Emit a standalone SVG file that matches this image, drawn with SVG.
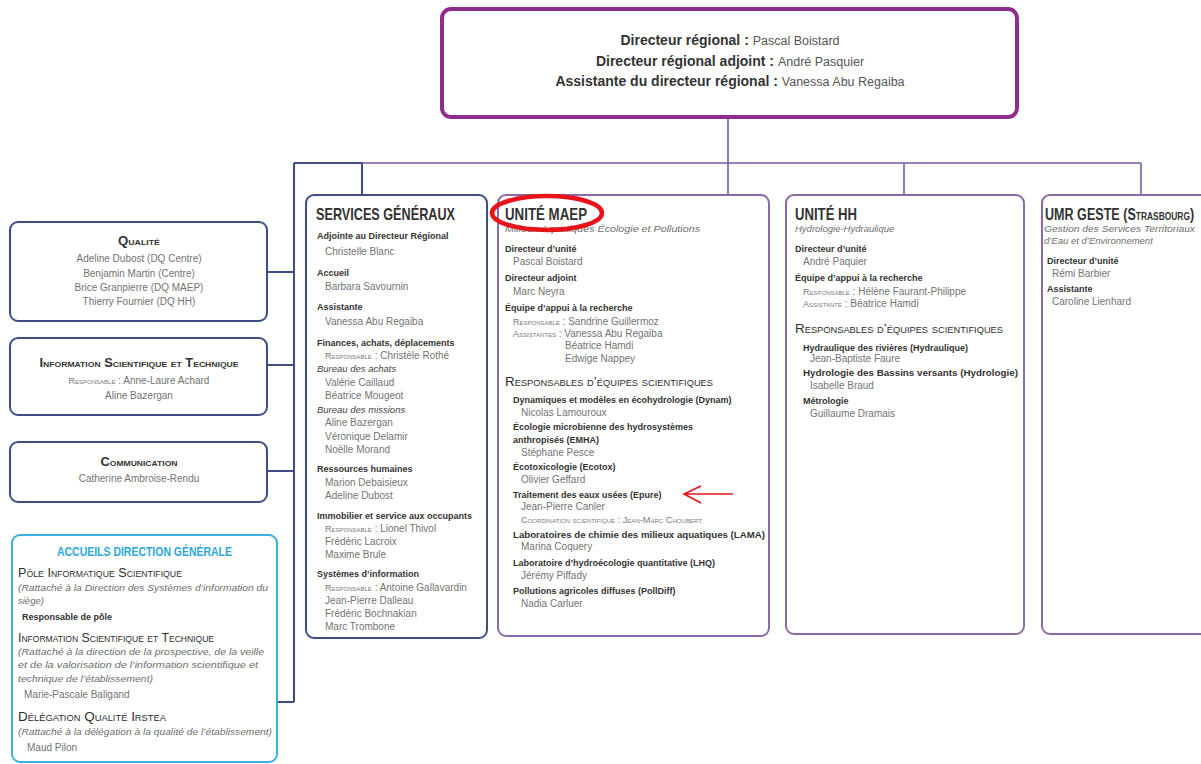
<svg xmlns="http://www.w3.org/2000/svg" width="1201" height="764" viewBox="0 0 1201 764">
<style>
text{font-family:"Liberation Sans",Arial,sans-serif}
.b{font-weight:bold;font-size:9px;fill:#333}
.n{font-size:10px;fill:#737373}
.it{font-style:italic;font-size:9.5px;fill:#6e6e6e}
.sc{font-variant:small-caps;font-size:9px;fill:#7a7a7a}
.t{font-size:17px;font-weight:bold;fill:#333}
.sec{font-variant:small-caps;font-size:13px;fill:#2e2e2e}
.lh{font-variant:small-caps;font-size:12px;font-weight:bold;fill:#333}
.ib{font-style:italic;font-size:9.5px;fill:#444}
.bx{fill:#fff;stroke:#3e4c87;stroke-width:2}
.px{fill:#fff;stroke:#8a6aa8;stroke-width:2}
.cb{stroke:#3e4c87;stroke-width:2;fill:none}
.cp{stroke:#7a5a9e;stroke-width:1.6;fill:none}
</style>
<rect width="1201" height="764" fill="#fff"/>
<g id="connectors">
<path class="cb" d="M294 163V702M294 163H362V195M294 272H267M294 365H267M294 471H267M294 702H277"/>
<path class="cp" d="M728 117V195M362 163H1141M904 163V195M1141 163V195"/>
</g>
<g id="direction">
<rect x="442" y="9" width="575" height="108" rx="9" fill="#fff" stroke="#8e2d8c" stroke-width="4"/>
<text x="730" y="45" text-anchor="middle" style="font-size:14px;font-weight:bold;fill:#333">Directeur régional : <tspan style="font-weight:normal;font-size:12.5px;fill:#555">Pascal Boistard</tspan></text>
<text x="730" y="66" text-anchor="middle" style="font-size:14px;font-weight:bold;fill:#333">Directeur régional adjoint : <tspan style="font-weight:normal;font-size:12.5px;fill:#555">André Pasquier</tspan></text>
<text x="730" y="86" text-anchor="middle" style="font-size:14px;font-weight:bold;fill:#333">Assistante du directeur régional : <tspan style="font-weight:normal;font-size:12.5px;fill:#555">Vanessa Abu Regaiba</tspan></text>
</g>
<g id="qualite">
<rect class="bx" x="10" y="222" width="257" height="99" rx="8"/>
<text class="lh" x="139" y="245" text-anchor="middle" textLength="42" lengthAdjust="spacingAndGlyphs">Qualité</text>
<text class="n" x="139" y="262" text-anchor="middle">Adeline Dubost (DQ Centre)</text>
<text class="n" x="139" y="276.5" text-anchor="middle">Benjamin Martin (Centre)</text>
<text class="n" x="139" y="290.5" text-anchor="middle">Brice Granpierre (DQ MAEP)</text>
<text class="n" x="139" y="304.5" text-anchor="middle">Thierry Fournier (DQ HH)</text>
</g>
<g id="ist">
<rect class="bx" x="10" y="338" width="257" height="77" rx="8"/>
<text class="lh" x="139" y="367" text-anchor="middle" textLength="199" lengthAdjust="spacingAndGlyphs">Information Scientifique et Technique</text>
<text class="n" x="139" y="384" text-anchor="middle"><tspan class="sc">Responsable</tspan> : Anne-Laure Achard</text>
<text class="n" x="139" y="398.5" text-anchor="middle">Aline Bazergan</text>
</g>
<g id="communication">
<rect class="bx" x="10" y="442" width="257" height="60" rx="8"/>
<text class="lh" x="139" y="465.5" text-anchor="middle" textLength="77" lengthAdjust="spacingAndGlyphs">Communication</text>
<text class="n" x="139" y="482" text-anchor="middle">Catherine Ambroise-Rendu</text>
</g>
<g id="accueils">
<rect x="12" y="535" width="265" height="227" rx="8" fill="#fff" stroke="#3ab0e0" stroke-width="2"/>
<text x="144.5" y="555.5" text-anchor="middle" textLength="175" lengthAdjust="spacingAndGlyphs" style="font-size:12px;font-weight:bold;fill:#2ba8dc">ACCUEILS DIRECTION GÉNÉRALE</text>
<text class="sec" x="18" y="577" textLength="164" lengthAdjust="spacingAndGlyphs">Pôle Informatique Scientifique</text>
<text class="it" x="18" y="590.5" textLength="250" lengthAdjust="spacingAndGlyphs">(Rattaché à la Direction des Systèmes d’information du</text>
<text class="it" x="18" y="603.5">siège)</text>
<text class="b" x="22" y="619.5">Responsable de pôle</text>
<text class="sec" x="18" y="641.5" textLength="196" lengthAdjust="spacingAndGlyphs">Information Scientifique et Technique</text>
<text class="it" x="18" y="654.5" textLength="246" lengthAdjust="spacingAndGlyphs">(Rattaché à la direction de la prospective, de la veille</text>
<text class="it" x="18" y="668" textLength="240" lengthAdjust="spacingAndGlyphs">et de la valorisation de l’information scientifique et</text>
<text class="it" x="18" y="681.5" textLength="135" lengthAdjust="spacingAndGlyphs">technique de l’établissement)</text>
<text class="n" x="24" y="697.5">Marie-Pascale Baligand</text>
<text class="sec" x="18" y="720.5" textLength="148" lengthAdjust="spacingAndGlyphs">Délégation Qualité Irstea</text>
<text class="it" x="18" y="734.5" textLength="254" lengthAdjust="spacingAndGlyphs">(Rattaché à la délégation à la qualité de l’établissement)</text>
<text class="n" x="27" y="751">Maud Pilon</text>
</g>
<g id="services-generaux">
<rect class="bx" x="306" y="195" width="181" height="443" rx="8"/>
<text class="t" x="316" y="220" textLength="139" lengthAdjust="spacingAndGlyphs">SERVICES GÉNÉRAUX</text>
<text class="b" x="317" y="238.5">Adjointe au Directeur Régional</text>
<text class="n" x="325" y="255">Christelle Blanc</text>
<text class="b" x="317" y="276">Accueil</text>
<text class="n" x="325" y="290">Barbara Savournin</text>
<text class="b" x="317" y="310">Assistante</text>
<text class="n" x="325" y="324.5">Vanessa Abu Regaiba</text>
<text class="b" x="317" y="346">Finances, achats, déplacements</text>
<text class="n" x="325" y="358.5"><tspan class="sc">Responsable</tspan> : Christèle Rothé</text>
<text class="ib" x="317" y="372">Bureau des achats</text>
<text class="n" x="325" y="386">Valérie Caillaud</text>
<text class="n" x="325" y="399">Béatrice Mougeot</text>
<text class="ib" x="317" y="413">Bureau des missions</text>
<text class="n" x="325" y="426">Aline Bazergan</text>
<text class="n" x="325" y="439.5">Véronique Delamir</text>
<text class="n" x="325" y="452.5">Noëlle Morand</text>
<text class="b" x="317" y="472">Ressources humaines</text>
<text class="n" x="325" y="485.5">Marion Debaisieux</text>
<text class="n" x="325" y="498.5">Adeline Dubost</text>
<text class="b" x="317" y="518.5">Immobilier et service aux occupants</text>
<text class="n" x="325" y="531.5"><tspan class="sc">Responsable</tspan> : Lionel Thivol</text>
<text class="n" x="325" y="545">Frédéric Lacroix</text>
<text class="n" x="325" y="557.5">Maxime Brule</text>
<text class="b" x="317" y="577">Systèmes d’information</text>
<text class="n" x="325" y="590.5"><tspan class="sc">Responsable</tspan> : Antoine Gallavardin</text>
<text class="n" x="325" y="604">Jean-Pierre Dalleau</text>
<text class="n" x="325" y="617">Frédéric Bochnakian</text>
<text class="n" x="325" y="630">Marc Trombone</text>
</g>
<g id="unite-maep">
<rect class="px" x="498" y="195" width="271" height="441" rx="8"/>
<text class="t" x="505" y="220" textLength="82" lengthAdjust="spacingAndGlyphs">UNITÉ MAEP</text>
<text class="it" x="505" y="231.5" textLength="195" lengthAdjust="spacingAndGlyphs">Milieux Aquatiques Écologie et Pollutions</text>
<text class="b" x="505" y="251.5">Directeur d’unité</text>
<text class="n" x="513" y="265">Pascal Boistard</text>
<text class="b" x="505" y="280.5">Directeur adjoint</text>
<text class="n" x="513" y="294.5">Marc Neyra</text>
<text class="b" x="505" y="310.5">Équipe d’appui à la recherche</text>
<text class="n" x="513" y="324.5"><tspan class="sc">Responsable</tspan> : Sandrine Guillermoz</text>
<text class="n" x="513" y="336.5"><tspan class="sc">Assistantes</tspan> : Vanessa Abu Regaiba</text>
<text class="n" x="565" y="349">Béatrice Hamdi</text>
<text class="n" x="565" y="362">Edwige Nappey</text>
<text class="sec" x="505" y="386" textLength="208" lengthAdjust="spacingAndGlyphs">Responsables d’équipes scientifiques</text>
<text class="b" x="513" y="403">Dynamiques et modèles en écohydrologie (Dynam)</text>
<text class="n" x="521" y="415.5">Nicolas Lamouroux</text>
<text class="b" x="513" y="430">Écologie microbienne des hydrosystèmes</text>
<text class="b" x="513" y="443">anthropisés (EMHA)</text>
<text class="n" x="521" y="455.5">Stéphane Pesce</text>
<text class="b" x="513" y="470">Écotoxicologie (Ecotox)</text>
<text class="n" x="521" y="482.5">Olivier Geffard</text>
<text class="b" x="513" y="497.5">Traitement des eaux usées (Epure)</text>
<text class="n" x="521" y="510">Jean-Pierre Canler</text>
<text class="sc" x="521" y="522.5" textLength="181" lengthAdjust="spacingAndGlyphs">Coordination scientifique : Jean-Marc Choubert</text>
<text class="b" x="513" y="537.5" textLength="252" lengthAdjust="spacingAndGlyphs">Laboratoires de chimie des milieux aquatiques (LAMA)</text>
<text class="n" x="521" y="550">Marina Coquery</text>
<text class="b" x="513" y="565.5">Laboratoire d’hydroécologie quantitative (LHQ)</text>
<text class="n" x="521" y="579">Jérémy Piffady</text>
<text class="b" x="513" y="593.5">Pollutions agricoles diffuses (PollDiff)</text>
<text class="n" x="521" y="606.5">Nadia Carluer</text>
</g>
<g id="unite-hh">
<rect class="px" x="786" y="195" width="238" height="439" rx="8"/>
<text class="t" x="795" y="220" textLength="62" lengthAdjust="spacingAndGlyphs">UNITÉ HH</text>
<text class="it" x="795" y="231.5">Hydrologie-Hydraulique</text>
<text class="b" x="795" y="252">Directeur d’unité</text>
<text class="n" x="803" y="265">André Paquier</text>
<text class="b" x="795" y="281">Équipe d’appui à la recherche</text>
<text class="n" x="803" y="295"><tspan class="sc">Responsable</tspan> : Hélène Faurant-Philippe</text>
<text class="n" x="803" y="307"><tspan class="sc">Assistante</tspan> : Béatrice Hamdi</text>
<text class="sec" x="795" y="333" textLength="208" lengthAdjust="spacingAndGlyphs">Responsables d’équipes scientifiques</text>
<text class="b" x="803" y="350.5">Hydraulique des rivières (Hydraulique)</text>
<text class="n" x="810" y="361.5">Jean-Baptiste Faure</text>
<text class="b" x="803" y="376" textLength="215" lengthAdjust="spacingAndGlyphs">Hydrologie des Bassins versants (Hydrologie)</text>
<text class="n" x="810" y="388.5">Isabelle Braud</text>
<text class="b" x="803" y="404">Métrologie</text>
<text class="n" x="810" y="416.5">Guillaume Dramais</text>
</g>
<g id="umr-geste">
<rect class="px" x="1042" y="195" width="170" height="439" rx="8"/>
<text class="t" transform="translate(1045 220) scale(0.74 1)" x="0" y="0" style="font-variant:small-caps">UMR GESTE (Strasbourg)</text>
<text class="it" x="1044" y="231.5" textLength="151" lengthAdjust="spacingAndGlyphs">Gestion des Services Territoriaux</text>
<text class="it" x="1044" y="243.5">d’Eau et d’Environnement</text>
<text class="b" x="1047" y="263.5">Directeur d’unité</text>
<text class="n" x="1052" y="276.5">Rémi Barbier</text>
<text class="b" x="1047" y="291.5">Assistante</text>
<text class="n" x="1052" y="304.5">Caroline Lienhard</text>
</g>
<g id="annotations" fill="none" stroke="#e8141b">
<ellipse cx="547" cy="213" rx="55" ry="17" stroke-width="4.5"/>
<path d="M733 494H684M701 486L684 494L701 503" stroke-width="1.6"/>
</g>
</svg>
